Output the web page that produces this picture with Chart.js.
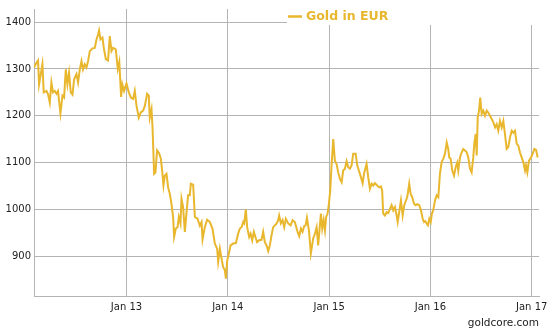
<!DOCTYPE html>
<html>
<head>
<meta charset="utf-8">
<script src="https://cdn.jsdelivr.net/npm/chart.js@4.4.1/dist/chart.umd.min.js"></script>
<style>
  html, body { margin: 0; padding: 0; background: #ffffff; }
  #wrap { width: 554px; height: 334px; position: relative; }
</style>
</head>
<body>
<div id="wrap"><canvas id="c" width="554" height="334"></canvas></div>
<script>
// ---- data (decimal year, EUR per ounce) ----
const seriesName = 'Gold in EUR';
const sourceText = 'goldcore.com';
const yearTicks = [2013, 2014, 2015, 2016, 2017];
const priceTicks = [900, 1000, 1100, 1200, 1300, 1400];
const years = [
2012.087,2012.111,2012.127,2012.137,2012.154,2012.170,2012.183,2012.210,2012.226,2012.243,
2012.259,2012.275,2012.292,2012.309,2012.324,2012.348,2012.368,2012.384,2012.401,2012.417,
2012.433,2012.450,2012.467,2012.483,2012.506,2012.522,2012.539,2012.556,2012.571,2012.588,
2012.605,2012.621,2012.638,2012.664,2012.687,2012.704,2012.720,2012.729,2012.743,2012.763,
2012.776,2012.796,2012.818,2012.835,2012.852,2012.868,2012.894,2012.914,2012.929,2012.947,
2012.959,2012.976,2013.000,2013.023,2013.043,2013.065,2013.082,2013.099,2013.122,2013.141,
2013.164,2013.181,2013.204,2013.220,2013.230,2013.247,2013.257,2013.273,2013.286,2013.302,
2013.322,2013.339,2013.352,2013.365,2013.378,2013.395,2013.411,2013.428,2013.444,2013.460,
2013.470,2013.487,2013.504,2013.517,2013.533,2013.543,2013.559,2013.576,2013.593,2013.608,
2013.625,2013.635,2013.658,2013.675,2013.701,2013.724,2013.741,2013.751,2013.773,2013.796,
2013.823,2013.849,2013.872,2013.895,2013.905,2013.922,2013.938,2013.954,2013.971,2013.981,
2013.994,2014.007,2014.027,2014.053,2014.080,2014.102,2014.119,2014.136,2014.152,2014.162,
2014.178,2014.191,2014.211,2014.225,2014.241,2014.257,2014.277,2014.290,2014.310,2014.333,
2014.349,2014.366,2014.383,2014.399,2014.415,2014.432,2014.448,2014.465,2014.482,2014.497,
2014.507,2014.524,2014.541,2014.557,2014.573,2014.596,2014.620,2014.640,2014.662,2014.689,
2014.705,2014.722,2014.738,2014.754,2014.768,2014.781,2014.801,2014.820,2014.843,2014.860,
2014.877,2014.892,2014.909,2014.919,2014.932,2014.946,2014.959,2014.971,2014.985,2014.998,
2015.011,2015.025,2015.041,2015.057,2015.074,2015.090,2015.107,2015.124,2015.139,2015.156,
2015.173,2015.189,2015.205,2015.222,2015.238,2015.262,2015.278,2015.294,2015.314,2015.331,
2015.347,2015.370,2015.386,2015.403,2015.420,2015.436,2015.452,2015.475,2015.495,2015.512,
2015.524,2015.534,2015.551,2015.568,2015.584,2015.601,2015.617,2015.633,2015.650,2015.667,
2015.677,2015.692,2015.709,2015.726,2015.742,2015.759,2015.771,2015.781,2015.791,2015.805,
2015.821,2015.838,2015.854,2015.870,2015.890,2015.907,2015.924,2015.936,2015.949,2015.963,
2015.976,2015.989,2016.003,2016.015,2016.028,2016.045,2016.062,2016.078,2016.094,2016.111,
2016.127,2016.144,2016.161,2016.176,2016.186,2016.200,2016.216,2016.233,2016.249,2016.265,
2016.275,2016.292,2016.309,2016.324,2016.341,2016.358,2016.374,2016.391,2016.407,2016.423,
2016.433,2016.447,2016.457,2016.467,2016.480,2016.492,2016.506,2016.522,2016.539,2016.556,
2016.571,2016.588,2016.605,2016.621,2016.638,2016.654,2016.670,2016.687,2016.704,2016.720,
2016.736,2016.753,2016.769,2016.786,2016.803,2016.818,2016.835,2016.852,2016.868,2016.884,
2016.901,2016.917,2016.934,2016.944,2016.957,2016.973,2016.993,2017.010,2017.026,2017.043,
2017.059
];
const prices = [
1303,1313,1318,1267,1289,1310,1250,1253,1246,1228,
1271,1250,1253,1247,1253,1205,1243,1239,1299,1267,
1292,1250,1245,1278,1289,1271,1299,1317,1299,1310,
1303,1317,1338,1344,1345,1363,1374,1382,1363,1367,
1345,1321,1318,1370,1338,1345,1342,1300,1315,1240,
1267,1253,1269,1250,1239,1236,1253,1221,1196,1207,
1211,1221,1247,1243,1196,1214,1175,1076,1079,1126,
1120,1108,1083,1051,1072,1076,1047,1033,1012,984,
941,959,962,984,970,1023,1005,952,994,1030,
1030,1055,1053,984,980,965,973,936,962,978,
973,959,927,916,888,916,895,877,870,852,
891,902,923,927,928,948,959,962,973,970,
1000,962,941,948,934,952,938,930,934,935,
952,930,923,911,923,945,962,966,970,977,
987,970,977,962,980,970,966,977,973,952,
943,959,952,964,966,982,955,906,938,948,
962,923,966,991,959,977,955,984,991,1012,
1040,1097,1150,1104,1097,1079,1065,1058,1083,1087,
1103,1090,1087,1094,1119,1119,1094,1083,1069,1056,
1079,1097,1069,1044,1055,1051,1056,1051,1047,1049,
1040,991,987,994,992,1001,1009,998,1005,987,
973,994,1019,987,1009,1019,1026,1040,1055,1033,
1026,1012,1009,1011,1009,998,980,973,975,970,
966,980,973,991,998,1019,1030,1026,1076,1101,
1108,1119,1143,1129,1111,1108,1083,1072,1090,1100,
1083,1111,1122,1129,1126,1122,1111,1087,1079,1111,
1140,1161,1115,1196,1211,1239,1204,1211,1200,1211,
1207,1200,1193,1186,1175,1182,1168,1189,1175,1189,
1161,1129,1133,1154,1168,1164,1168,1140,1136,1122,
1111,1101,1083,1094,1079,1104,1111,1119,1129,1127,
1111
];

// ---- styles ----
const gold = '#E8B72E';
const gridColor = '#b4b4b4';
const tickFont = { family: 'DejaVu Sans', size: 10 };

const legendPlugin = {
  id: 'goldLegend',
  beforeDatasetsDraw(chart) {
    const ctx = chart.ctx;
    ctx.save();
    ctx.fillStyle = '#ffffff';
    ctx.fillRect(287, 0, chart.width - 287, 25);
    ctx.strokeStyle = gold;
    ctx.lineWidth = 2.5;
    ctx.beginPath();
    ctx.moveTo(288, 16.5);
    ctx.lineTo(302, 16.5);
    ctx.stroke();
    ctx.fillStyle = gold;
    ctx.font = 'bold 12.5px "DejaVu Sans"';
    ctx.textBaseline = 'middle';
    ctx.textAlign = 'left';
    ctx.fillText(seriesName, 306, 16.5);
    ctx.restore();
  }
};

new Chart(document.getElementById('c'), {
  type: 'line',
  data: {
    datasets: [{
      label: seriesName,
      data: years.map((y, i) => ({ x: y, y: prices[i] })),
      borderColor: gold,
      backgroundColor: gold,
      borderWidth: 2,
      pointRadius: 0,
      tension: 0,
      fill: false
    }]
  },
  options: {
    responsive: false,
    animation: false,
    layout: { padding: { left: 0, right: 15, top: 8, bottom: 0 } },
    plugins: {
      legend: { display: false },
      tooltip: { enabled: false },
      title: { display: false },
      subtitle: {
        display: true,
        text: sourceText,
        position: 'bottom',
        align: 'end',
        color: '#222222',
        font: { family: 'DejaVu Sans', size: 10.5, weight: 'normal' },
        padding: { top: 0, bottom: 4 }
      }
    },
    scales: {
      x: {
        type: 'linear',
        min: 2012.087,
        max: 2017.072,
        afterBuildTicks: (s) => { s.ticks = yearTicks.map(v => ({ value: v })); },
        afterFit: (s) => { s.height = 21.4; },
        grid: { color: gridColor, lineWidth: 1, drawTicks: false },
        border: { display: true, color: gridColor, width: 1 },
        ticks: {
          padding: 5,
          color: '#222222',
          font: tickFont,
          maxRotation: 0,
          autoSkip: false,
          callback: (v) => 'Jan ' + String(v).slice(2)
        }
      },
      y: {
        type: 'linear',
        min: 815,
        max: 1428,
        afterBuildTicks: (s) => { s.ticks = priceTicks.map(v => ({ value: v })); },
        afterFit: (s) => { s.width = 34; },
        grid: { color: gridColor, lineWidth: 1, drawTicks: false },
        border: { display: true, color: gridColor, width: 1 },
        ticks: {
          padding: 3,
          color: '#222222',
          font: tickFont,
          callback: (v) => String(v)
        }
      }
    }
  },
  plugins: [legendPlugin]
});
</script>
</body>
</html>
